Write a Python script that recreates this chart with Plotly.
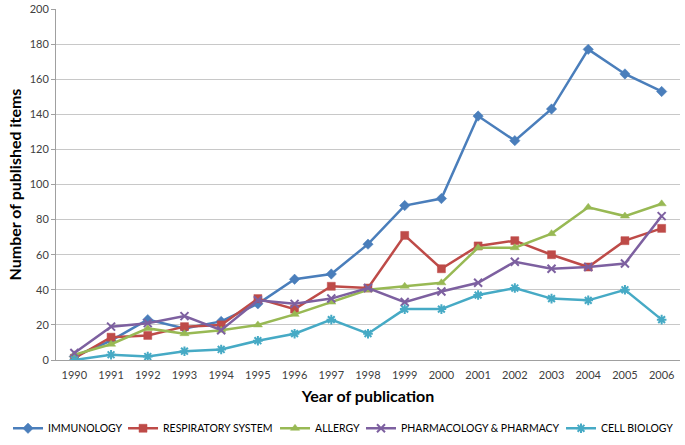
import plotly.graph_objects as go

years = [1990, 1991, 1992, 1993, 1994, 1995, 1996, 1997, 1998, 1999, 2000, 2001, 2002, 2003, 2004, 2005, 2006]
immunology = [2, 11, 23, 18, 22, 32, 46, 49, 66, 88, 92, 139, 125, 143, 177, 163, 153]
respiratory = [1, 13, 14, 19, 20, 35, 29, 42, 41, 71, 52, 65, 68, 60, 53, 68, 75]
allergy = [3, 9, 18, 15, 17, 20, 26, 33, 40, 42, 44, 64, 64, 72, 87, 82, 89]
pharmacology = [4, 19, 21, 25, 17, 34, 32, 35, 41, 33, 39, 44, 56, 52, 53, 55, 82]
cell_biology = [0, 3, 2, 5, 6, 11, 15, 23, 15, 29, 29, 37, 41, 35, 34, 40, 23]
y_ticks = [0, 20, 40, 60, 80, 100, 120, 140, 160, 180, 200]

series = [
    ("IMMUNOLOGY", immunology, "#4A7EBB", "diamond", 8, None),
    ("RESPIRATORY SYSTEM", respiratory, "#BE4B48", "square", 8, None),
    ("ALLERGY", allergy, "#98B954", "triangle-up", 8, None),
    ("PHARMACOLOGY & PHARMACY", pharmacology, "#7D60A0", "x-thin-open", 8, 2),
    ("CELL BIOLOGY", cell_biology, "#46AAC5", "asterisk-open", 8, 2),
]
# horizontal position (fraction of figure width) of each legend entry
legend_x = [0.0117, 0.1796, 0.4015, 0.527, 0.819]

fig = go.Figure()
legend_layout = {}
for i, (name, vals, col, sym, size, lw) in enumerate(series):
    marker = dict(symbol=sym, size=size, color=col)
    marker["line"] = dict(color=col, width=lw if lw else 0.5)
    lname = "legend" if i == 0 else f"legend{i + 1}"
    fig.add_trace(go.Scatter(
        x=years, y=vals, name=name, mode="lines+markers", showlegend=True,
        line=dict(color=col, width=2.5), marker=marker, legend=lname,
    ))
    legend_layout[lname] = dict(
        orientation="h", x=legend_x[i], xanchor="left", xref="container",
        y=0.005, yanchor="bottom", yref="container",
        font=dict(size=10.5, color="#000000"), itemwidth=30,
        bgcolor="rgba(0,0,0,0)", visible=True,
    )

fig.update_layout(
    width=685, height=445, showlegend=True,
    margin=dict(l=56, r=5, t=9, b=85, autoexpand=False),
    plot_bgcolor="white", paper_bgcolor="white",
    font=dict(family="Lato, Open Sans, sans-serif", size=11, color="#404040"),
    xaxis=dict(
        range=[1989.5, 2006.5], tickmode="array", tickvals=years,
        ticktext=[str(y) for y in years], automargin=False,
        showgrid=False, showline=True, linecolor="#A0A0A0", linewidth=1,
        ticks="outside", ticklen=5, tickcolor="rgba(0,0,0,0)", tickfont=dict(size=11, color="#404040"),
        title=dict(text="<b>Year of publication</b>", font=dict(size=16, color="#000000"), standoff=10),
        zeroline=False,
    ),
    yaxis=dict(
        range=[0, 200], tickmode="array", tickvals=y_ticks, automargin=False,
        showgrid=True, gridcolor="#C8C8C8", gridwidth=1,
        showline=True, linecolor="#A0A0A0", linewidth=1,
        ticks="outside", ticklen=4, tickcolor="#A0A0A0",
        tickfont=dict(size=11, color="#404040"),
        title=dict(text="<b>Number of published items</b>", font=dict(size=16, color="#000000"), standoff=4),
        zeroline=False,
    ),
    **legend_layout,
)

fig.write_html("out.html", config={"displayModeBar": False},
               post_script="document.body.style.margin='0px';")
